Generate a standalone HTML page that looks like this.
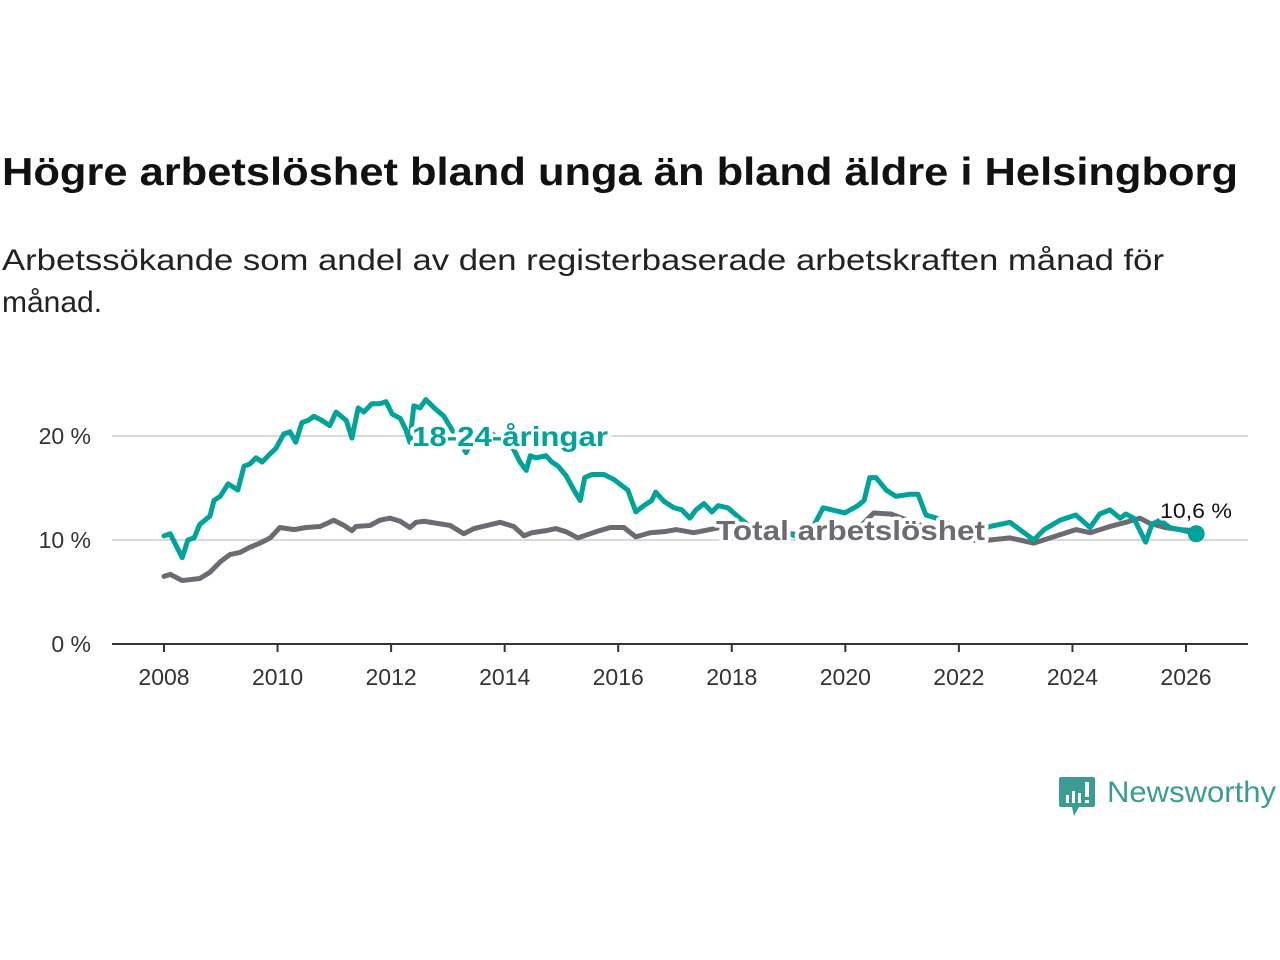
<!DOCTYPE html>
<html><head><meta charset="utf-8">
<style>
html,body{margin:0;padding:0;background:#fff;width:1280px;height:960px;overflow:hidden}
svg{display:block}
text{font-family:"Liberation Sans","DejaVu Sans",sans-serif}
</style></head>
<body>
<svg id="chart" width="1280" height="960" viewBox="0 0 1280 960">
<text x="2" y="185" font-size="39" font-weight="bold" fill="#111" textLength="1236" lengthAdjust="spacingAndGlyphs">Högre arbetslöshet bland unga än bland äldre i Helsingborg</text>
<text x="2" y="270" font-size="30" fill="#222" textLength="1162" lengthAdjust="spacingAndGlyphs">Arbetssökande som andel av den registerbaserade arbetskraften månad för</text>
<text x="2" y="312" font-size="30" fill="#222">månad.</text>
<g id="grid"></g>
<g id="series"></g>
<g id="labels"></g>
<g>
<path d="M1061 777 h32 a2 2 0 0 1 2 2 v26 a2 2 0 0 1 -2 2 h-14 l-5 9 l-2 -9 h-11 a2 2 0 0 1 -2 -2 v-26 a2 2 0 0 1 2 -2z" fill="#3a9c95"/>
<rect x="1066" y="795" width="3" height="8" fill="#fff"/><rect x="1072" y="791" width="3" height="12" fill="#fff"/><rect x="1078" y="793" width="3" height="10" fill="#fff"/><rect x="1085" y="782" width="4" height="15" fill="#fff"/><rect x="1085" y="800" width="4" height="3" fill="#fff"/>
<text x="1107" y="802" font-size="30" fill="#3a9c95" textLength="169" lengthAdjust="spacingAndGlyphs">Newsworthy</text>
</g>
</svg>
<script>
const youthDates=[2008.0,2008.11,2008.21,2008.32,2008.42,2008.53,2008.63,2008.81,2008.88,2008.99,2009.13,2009.30,2009.41,2009.51,2009.62,2009.73,2009.87,2009.97,2010.11,2010.22,2010.32,2010.43,2010.54,2010.64,2010.78,2010.92,2011.03,2011.21,2011.31,2011.42,2011.52,2011.66,2011.80,2011.91,2012.02,2012.16,2012.26,2012.33,2012.40,2012.51,2012.61,2012.76,2012.93,2013.07,2013.21,2013.32,2013.46,2013.74,2014.01,2014.16,2014.27,2014.38,2014.45,2014.55,2014.73,2014.83,2014.94,2015.08,2015.22,2015.33,2015.41,2015.54,2015.75,2015.93,2016.07,2016.17,2016.31,2016.45,2016.59,2016.66,2016.81,2016.98,2017.12,2017.26,2017.37,2017.51,2017.65,2017.76,2017.93,2018.14,2018.32,2018.67,2019.02,2019.31,2019.61,2019.99,2020.22,2020.33,2020.43,2020.54,2020.72,2020.89,2021.14,2021.28,2021.42,2021.67,2021.93,2022.20,2022.37,2022.55,2022.90,2023.32,2023.50,2023.78,2024.06,2024.31,2024.48,2024.66,2024.84,2024.94,2025.08,2025.29,2025.40,2025.54,2025.72,2025.89,2026.18];
const youthValues=[10.4,10.6,9.5,8.3,10.0,10.2,11.5,12.3,13.8,14.2,15.4,14.8,17.1,17.3,17.9,17.5,18.3,18.8,20.2,20.4,19.4,21.3,21.5,21.9,21.5,21.0,22.3,21.5,19.8,22.7,22.3,23.1,23.1,23.3,22.1,21.7,20.6,19.4,22.9,22.7,23.5,22.7,21.9,20.6,19.5,18.4,20.0,20.3,19.5,18.7,17.5,16.7,18.1,17.9,18.1,17.5,17.1,16.2,14.8,13.8,16.0,16.3,16.3,15.8,15.2,14.8,12.7,13.3,13.8,14.6,13.7,13.1,12.9,12.1,12.9,13.5,12.7,13.3,13.1,12.1,11.3,11.0,10.6,10.0,13.1,12.6,13.3,13.8,16.0,16.0,14.8,14.2,14.4,14.4,12.4,12.0,11.2,10.4,11.0,11.3,11.7,10.0,11.0,11.9,12.4,11.2,12.5,12.9,12.1,12.5,12.1,9.8,11.5,11.9,11.2,11.0,10.6];
const totalDates=[2008.0,2008.11,2008.32,2008.63,2008.81,2008.99,2009.16,2009.34,2009.51,2009.69,2009.87,2010.04,2010.29,2010.50,2010.75,2010.99,2011.17,2011.31,2011.38,2011.63,2011.80,2011.98,2012.16,2012.33,2012.44,2012.58,2013.04,2013.28,2013.46,2013.92,2014.16,2014.34,2014.48,2014.73,2014.90,2015.08,2015.29,2015.61,2015.86,2016.10,2016.31,2016.56,2016.81,2017.02,2017.33,2017.79,2018.3,2018.8,2019.3,2019.8,2020.3,2020.5,2020.8,2021.2,2021.7,2022.2,2022.55,2022.90,2023.32,2023.78,2024.06,2024.31,2024.66,2024.94,2025.19,2025.36,2025.63,2025.89,2026.18];
const totalValues=[6.5,6.7,6.1,6.3,6.9,7.9,8.6,8.8,9.3,9.7,10.2,11.2,11.0,11.2,11.3,11.9,11.4,10.9,11.3,11.4,11.9,12.1,11.8,11.2,11.7,11.8,11.4,10.6,11.1,11.7,11.3,10.4,10.7,10.9,11.1,10.8,10.2,10.8,11.2,11.2,10.3,10.7,10.8,11.0,10.7,11.2,11.1,10.8,10.4,10.2,11.5,12.6,12.5,11.7,10.6,10.0,10.0,10.2,9.7,10.5,11.0,10.7,11.3,11.7,12.1,11.6,11.2,11.0,10.9];
const yTicks=[0,10,20];
const xTicks=[2008,2010,2012,2014,2016,2018,2020,2022,2024,2026];
const lastLabel="10,6 %";

const NS="http://www.w3.org/2000/svg";
const X=t=>164+(t-2008)*(1186-164)/18;
const Y=v=>644-v*10.4;
function mk(tag,attrs,parent){const e=document.createElementNS(NS,tag);for(const k in attrs)e.setAttribute(k,attrs[k]);parent.appendChild(e);return e;}
const grid=document.getElementById('grid'),ser=document.getElementById('series'),lab=document.getElementById('labels');
yTicks.forEach(v=>{
  if(v>0){const g=mk('line',{x1:112,x2:1248,y1:Y(v),y2:Y(v),stroke:'#d9d9d9','stroke-width':2},grid);
  
  }
  const t=mk('text',{x:91,y:Y(v)+8,'text-anchor':'end','font-size':23,fill:'#333'},grid);t.textContent=v+' %';
  
  
});
const ax=mk('line',{x1:112,x2:1248,y1:644,y2:644,stroke:'#333','stroke-width':2},grid);


xTicks.forEach(y=>{
  mk('line',{x1:X(y),x2:X(y),y1:644,y2:652,stroke:'#333','stroke-width':2},grid);
  const t=mk('text',{x:X(y),y:685,'text-anchor':'middle','font-size':23,fill:'#333'},grid);t.textContent=y;
  
  
});
function line(d,v,c,name){
  const p=mk('polyline',{points:d.map((t,i)=>X(t)+','+Y(v[i])).join(' '),fill:'none',stroke:c,'stroke-width':5,'stroke-linejoin':'round','stroke-linecap':'round'},ser);
  
  
}
line(totalDates,totalValues,'#6d6a72','total-line');
line(youthDates,youthValues,'#00a39a','youth-line');
const dot=mk('circle',{cx:X(youthDates[youthDates.length-1]),cy:Y(youthValues[youthValues.length-1]),r:8.5,fill:'#00a39a'},ser);


function label(x,y,txt,c,size,bold,name,len){
  const a={x:x,y:y,'font-size':size,'font-weight':bold?'bold':'normal',fill:c,stroke:'#fff','stroke-width':bold?7:5,'paint-order':'stroke','stroke-linejoin':'round'};
  if(len){a.textLength=len;a.lengthAdjust='spacingAndGlyphs';}
  const t=mk('text',a,lab);t.textContent=txt;
  
  
  return t;
}
label(412,446,'18-24-åringar','#00a39a',28,true,'youth-series-label',196);
label(716,540,'Total arbetslöshet','#6d6a72',28,true,'total-series-label',269);
label(1160,518,lastLabel,'#111',21,false,'last-value-label',72);
</script>
</body></html>
